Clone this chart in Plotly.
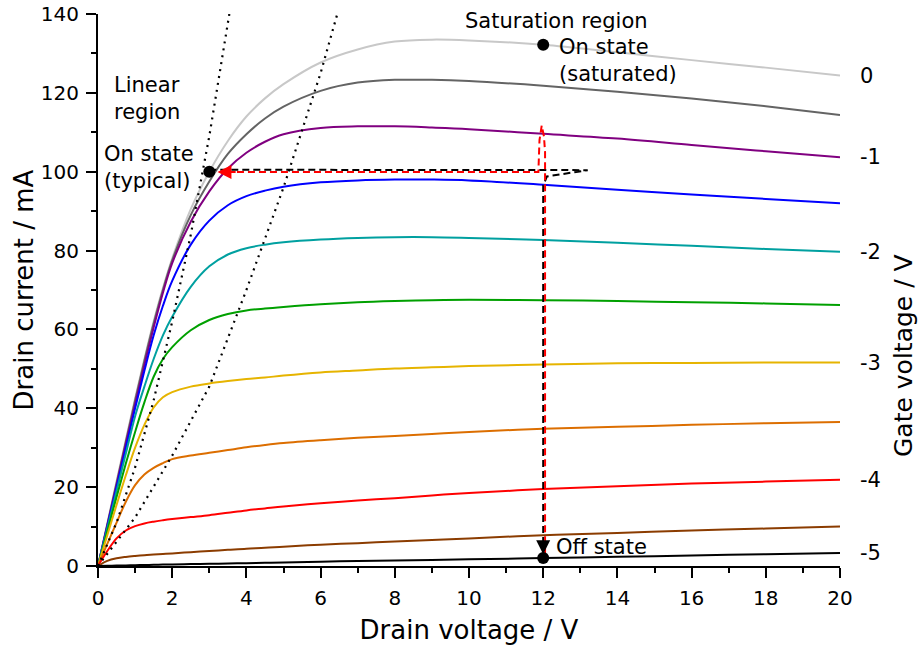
import plotly.graph_objects as go

# Drain voltage sample points (V) shared by every output curve
vds = [0, 0.25, 0.5, 0.75, 1, 1.25, 1.5, 1.75, 2, 2.5, 3, 3.5, 4, 4.5, 5, 6, 7, 8, 9, 10, 12, 14, 16, 18, 20]

# Gate voltages (V) of the family of curves
gate_voltages = [0, -0.5, -1, -1.5, -2, -2.5, -3, -3.5, -4, -4.5, -5]

# Drain current (mA) for each gate voltage
id_0 = [0, 10.8, 21.5, 32, 42.5, 52.5, 62, 70.5, 78, 90.5, 100, 107.8, 114, 118.6, 122.2, 127.7, 131, 133, 133.5, 133.3, 132.2, 130.3, 128.3, 126.4, 124.4]
id_m05 = [0, 10.5, 21, 31.5, 42, 52, 61.5, 70, 77.5, 89, 97.5, 104.5, 109.5, 113.5, 116.5, 120.5, 122.6, 123.3, 123.3, 123, 121.8, 120.3, 118.6, 116.6, 114.4]
id_m1 = [0, 10.3, 20.5, 31, 41, 51, 60.5, 69.3, 76.8, 87.3, 95, 100.8, 104.8, 107.6, 109.5, 111.1, 111.5, 111.5, 111.2, 110.8, 109.6, 108.4, 106.8, 105.2, 103.7]
id_m15 = [0, 10, 20, 30, 40, 49.5, 58.5, 66, 72.3, 81.5, 87.6, 91.5, 93.8, 95.2, 96.2, 97.3, 97.8, 98, 98, 97.8, 96.7, 95.4, 94.2, 93.1, 92.0]
id_m2 = [0, 9.5, 19, 28.5, 38, 45.5, 52.5, 58.5, 63.2, 70.8, 76, 79, 80.6, 81.5, 82.1, 82.8, 83.2, 83.4, 83.4, 83.2, 82.7, 82.0, 81.2, 80.4, 79.7]
id_m25 = [0, 8.8, 17.5, 26, 34, 41.5, 48, 52.5, 55.5, 59.8, 62.4, 63.9, 64.8, 65.3, 65.7, 66.4, 66.9, 67.2, 67.4, 67.5, 67.4, 67.2, 66.9, 66.6, 66.2]
id_m3 = [0, 7.8, 15.5, 23, 30, 35.8, 40.2, 42.8, 44.1, 45.5, 46.3, 46.9, 47.4, 47.8, 48.3, 49.1, 49.6, 50.1, 50.4, 50.7, 51.1, 51.4, 51.5, 51.6, 51.6]
id_m35 = [0, 5.6, 11, 16.3, 20.5, 23.2, 24.9, 26.1, 27.1, 28.0, 28.7, 29.4, 30.1, 30.7, 31.2, 31.9, 32.5, 33.0, 33.5, 34.0, 34.8, 35.3, 35.8, 36.2, 36.5]
id_m4 = [0, 3.8, 7.0, 9.0, 10.1, 10.8, 11.25, 11.6, 11.9, 12.4, 12.9, 13.5, 14.1, 14.6, 15.1, 15.9, 16.6, 17.2, 17.9, 18.5, 19.5, 20.2, 20.9, 21.4, 21.9]
id_m45 = [0, 1.3, 1.95, 2.3, 2.55, 2.75, 2.9, 3.05, 3.2, 3.5, 3.8, 4.1, 4.4, 4.6, 4.9, 5.4, 5.8, 6.2, 6.6, 7.0, 7.8, 8.4, 9.0, 9.5, 10.0]
id_m5 = [0, 0.05, 0.1, 0.15, 0.2, 0.25, 0.3, 0.35, 0.4, 0.5, 0.55, 0.65, 0.7, 0.8, 0.9, 1.1, 1.25, 1.4, 1.55, 1.7, 2.0, 2.35, 2.65, 3.0, 3.3]

curves = [id_0, id_m05, id_m1, id_m15, id_m2, id_m25, id_m3, id_m35, id_m4, id_m45, id_m5]
colors = ["#c8c8c8", "#646464", "#800080", "#0000ff", "#00a0a0", "#00a000",
          "#e6b400", "#dc6e00", "#ff0000", "#8b3c00", "#000000"]

# Dotted boundaries between the linear and saturation regions
edge1_v = [0, 0.5, 1, 1.5, 2, 2.5, 3, 3.54]
edge1_i = [0, 11, 25, 42, 62, 84, 109, 140]
edge2_v = [0, 1, 2, 3, 4, 5, 6, 6.45]
edge2_i = [0, 12.3, 28, 45.5, 70, 96, 125, 140]

# Switching paths: turning off (black) and turning on (red)
off_path_v = [3.0, 11.9, 13.2, 12.1, 12.0, 12.0]
off_path_i = [100.5, 100.5, 100.4, 98.8, 96.5, 6.0]
on_path_v = [12.05, 12.05, 12.02, 11.96, 11.9, 11.87, 3.6]
on_path_i = [3.0, 105, 109, 111.7, 108, 99.9, 99.9]

# Operating points
op_v = [3.0, 12.0, 12.0]
op_i = [100.0, 132.2, 2.0]

FONT = "DejaVu Sans"

fig = go.Figure()

for ids, col in zip(curves, colors):
    fig.add_trace(go.Scatter(x=vds, y=ids, mode="lines", line=dict(color=col, width=2, shape="spline"),
                             hoverinfo="skip"))

for ev, ei in ((edge1_v, edge1_i), (edge2_v, edge2_i)):
    fig.add_trace(go.Scatter(x=ev, y=ei, mode="lines",
                             line=dict(color="black", width=2.2, dash="2px,5px")))

fig.add_trace(go.Scatter(x=off_path_v, y=off_path_i, mode="lines",
                         line=dict(color="black", width=2, dash="7px,4px")))
fig.add_trace(go.Scatter(x=on_path_v, y=on_path_i, mode="lines",
                         line=dict(color="#ff0000", width=2, dash="7px,4px")))

fig.add_trace(go.Scatter(x=op_v, y=op_i, mode="markers",
                         marker=dict(color="black", size=12)))

# Arrow heads at the ends of the switching paths
fig.add_annotation(x=3.22, y=99.9, ax=3.75, ay=99.9, xref="x", yref="y", axref="x", ayref="y",
                   showarrow=True, arrowhead=2, arrowsize=1.4, arrowwidth=2, arrowcolor="#ff0000", text="")
fig.add_annotation(x=12.0, y=3.0, ax=12.0, ay=6.5, xref="x", yref="y", axref="x", ayref="y",
                   showarrow=True, arrowhead=2, arrowsize=1.4, arrowwidth=2, arrowcolor="black", text="")

txt = dict(size=21, color="black", family=FONT)
fig.add_annotation(x=0.38, y=118.5, xref="x", yref="y", text="Linear<br>region", showarrow=False,
                   xanchor="left", yanchor="middle", align="left", font=txt)
fig.add_annotation(x=0.11, y=101, xref="x", yref="y", text="On state<br>(typical)", showarrow=False,
                   xanchor="left", yanchor="middle", align="left", font=txt)
fig.add_annotation(x=12.35, y=138.1, xref="x", yref="y", text="Saturation region", showarrow=False,
                   xanchor="center", yanchor="middle", font=txt)
fig.add_annotation(x=12.38, y=128.2, xref="x", yref="y", text="On state<br>(saturated)", showarrow=False,
                   xanchor="left", yanchor="middle", align="left", font=txt)
fig.add_annotation(x=12.3, y=4.9, xref="x", yref="y", text="Off state", showarrow=False,
                   xanchor="left", yanchor="middle", font=txt)

# Gate-voltage labels at the right-hand end of every other curve
for vg, ids in zip(gate_voltages, curves):
    if vg == int(vg):
        fig.add_annotation(x=vds[-1], y=ids[-1], xref="x", yref="y", text=f"{int(vg)}", showarrow=False,
                           xanchor="left", yanchor="middle", xshift=18, font=txt)

fig.add_annotation(x=1.0, y=0.5, xref="paper", yref="paper", text="Gate voltage / V", showarrow=False,
                   textangle=-90, xanchor="center", yanchor="middle", xshift=63, yshift=-66,
                   font=dict(size=25, color="black", family=FONT))

axis_common = dict(showgrid=False, zeroline=False, showline=True, linecolor="black", linewidth=2,
                   ticks="outside", ticklen=10, tickwidth=2, tickcolor="black", ticklabelstandoff=3,
                   tickfont=dict(size=20, color="black", family=FONT), mirror=False, automargin=False)

fig.update_xaxes(range=[0, 20], tickvals=list(range(0, 21, 2)),
                 minor=dict(ticks="outside", ticklen=5, tickwidth=2, tickcolor="black", dtick=1, tick0=0),
                 title=dict(text="Drain voltage / V", font=dict(size=26, color="black", family=FONT), standoff=12),
                 **axis_common)
fig.update_yaxes(range=[0, 140], tickvals=list(range(0, 141, 20)),
                 minor=dict(ticks="outside", ticklen=5, tickwidth=2, tickcolor="black", dtick=10, tick0=0),
                 title=dict(text="Drain current / mA", font=dict(size=26, color="black", family=FONT), standoff=0),
                 **axis_common)

fig.update_layout(width=919, height=646, margin=dict(l=98, r=79, t=14, b=80),
                  paper_bgcolor="white", plot_bgcolor="white", showlegend=False,
                  font=dict(family=FONT, color="black"))

fig.write_html("out.html")
